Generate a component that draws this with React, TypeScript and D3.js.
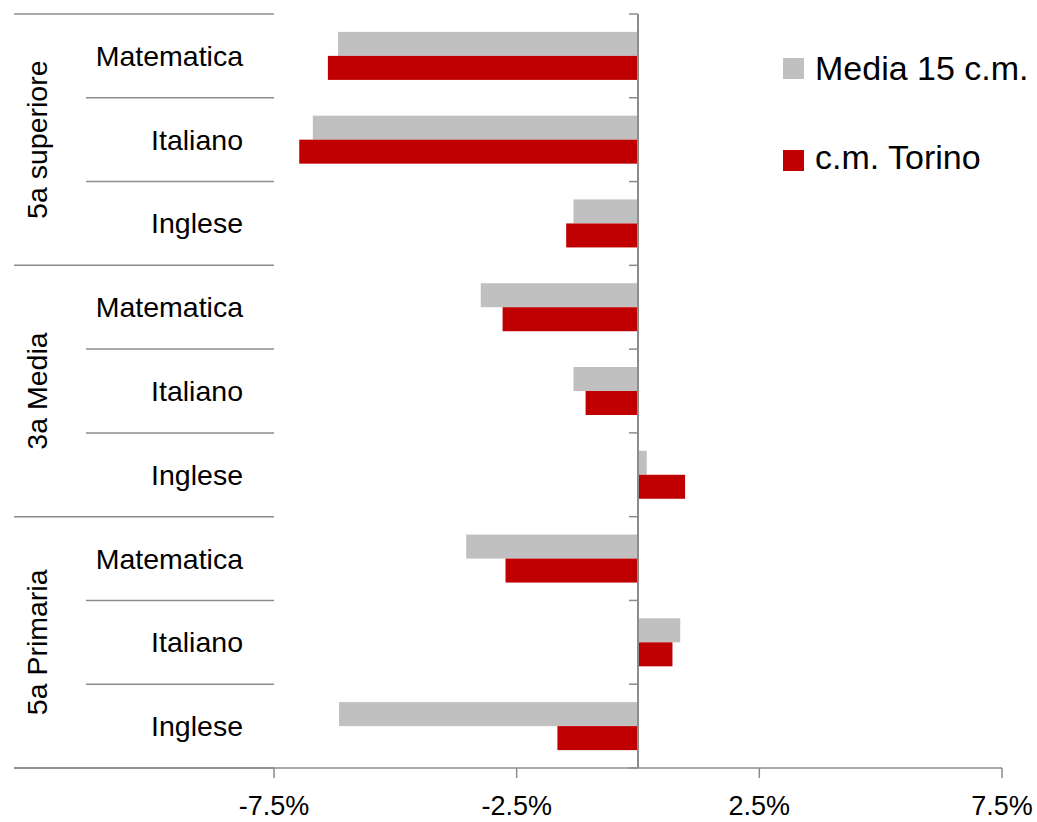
import React from "react";
import * as d3 from "d3";

const groups = ["5a superiore", "3a Media", "5a Primaria"];
const subjects = ["Matematica", "Italiano", "Inglese"];
const media15 = [-6.18, -6.7, -1.33, -3.24, -1.33, 0.18, -3.54, 0.87, -6.16];
const torino = [-6.39, -6.98, -1.48, -2.79, -1.08, 0.97, -2.73, 0.71, -1.66];
const xTicks = [-7.5, -2.5, 2.5, 7.5];
const seriesNames = ["Media 15 c.m.", "c.m. Torino"];
const seriesColors = ["#c0c0c0", "#c00000"];

const W = 1037;
const H = 822;
const FONT = "'Liberation Sans', Arial, sans-serif";
const LINE = "#8c8c8c";

export default function App() {
  const rows = d3.range(groups.length * subjects.length);
  const x = d3.scaleLinear().domain([-7.5, 7.5]).range([274, 1002]);
  const y = d3.scaleBand<number>().domain(rows).range([14, 768]).padding(0);
  const bw = y.bandwidth();
  const barH = 24;
  const off = (bw - barH * 2) / 2;
  const x0 = x(0);
  const bottom = 768;
  const values = [media15, torino];

  return (
    <svg width={W} height={H} style={{ position: "absolute", left: 0, top: 0, background: "#fff" }}>
      {/* bars */}
      {values.map((vals, s) =>
        vals.map((v, i) => (
          <rect
            key={`b${s}-${i}`}
            x={Math.min(x(v), x0)}
            y={(y(i) as number) + off + s * barH}
            width={Math.abs(x(v) - x0)}
            height={barH}
            fill={seriesColors[s]}
          />
        ))
      )}
      {/* category separators */}
      {d3.range(rows.length + 1).map((k) => {
        const yy = k === rows.length ? bottom : (y(k) as number);
        const isGroup = k % subjects.length === 0;
        return (
          <line
            key={`sep${k}`}
            x1={isGroup ? 14 : 86}
            x2={274}
            y1={yy}
            y2={yy}
            stroke={LINE}
            strokeWidth={1.5}
          />
        );
      })}
      {/* subject labels */}
      {rows.map((i) => (
        <text
          key={`lab${i}`}
          x={243}
          y={(y(i) as number) + bw / 2 + 10}
          textAnchor="end"
          fontFamily={FONT}
          fontSize={28.5}
          fill="#000"
        >
          {subjects[i % subjects.length]}
        </text>
      ))}
      {/* group labels */}
      {groups.map((g, gi) => {
        const top = y(gi * subjects.length) as number;
        const end = gi === groups.length - 1 ? bottom : (y((gi + 1) * subjects.length) as number);
        const cy = (top + end) / 2;
        return (
          <text
            key={`g${gi}`}
            transform={`translate(47,${cy}) rotate(-90)`}
            textAnchor="middle"
            fontFamily={FONT}
            fontSize={28.5}
            fill="#000"
          >
            {g}
          </text>
        );
      })}
      {/* zero axis */}
      <line x1={x0} x2={x0} y1={14} y2={bottom} stroke={LINE} strokeWidth={2} />
      {d3.range(rows.length + 1).map((k) => {
        const yy = k === rows.length ? bottom : (y(k) as number);
        return <line key={`zt${k}`} x1={x0 - 9} x2={x0} y1={yy} y2={yy} stroke={LINE} strokeWidth={1.5} />;
      })}
      {/* bottom axis */}
      <line x1={14} x2={1002} y1={bottom} y2={bottom} stroke={LINE} strokeWidth={1.5} />
      {xTicks.map((t) => (
        <g key={`xt${t}`}>
          <line x1={x(t)} x2={x(t)} y1={bottom} y2={bottom + 10} stroke={LINE} strokeWidth={1.5} />
          <text x={x(t)} y={815} textAnchor="middle" fontFamily={FONT} fontSize={27} fill="#000">
            {`${t.toFixed(1)}%`}
          </text>
        </g>
      ))}
      {/* legend */}
      {seriesNames.map((n, s) => (
        <g key={`leg${s}`}>
          <rect x={783} y={58 + s * 92} width={21} height={21} fill={seriesColors[s]} />
          <text x={815} y={80 + s * 89} fontFamily={FONT} fontSize={34} fill="#000">
            {n}
          </text>
        </g>
      ))}
    </svg>
  );
}
